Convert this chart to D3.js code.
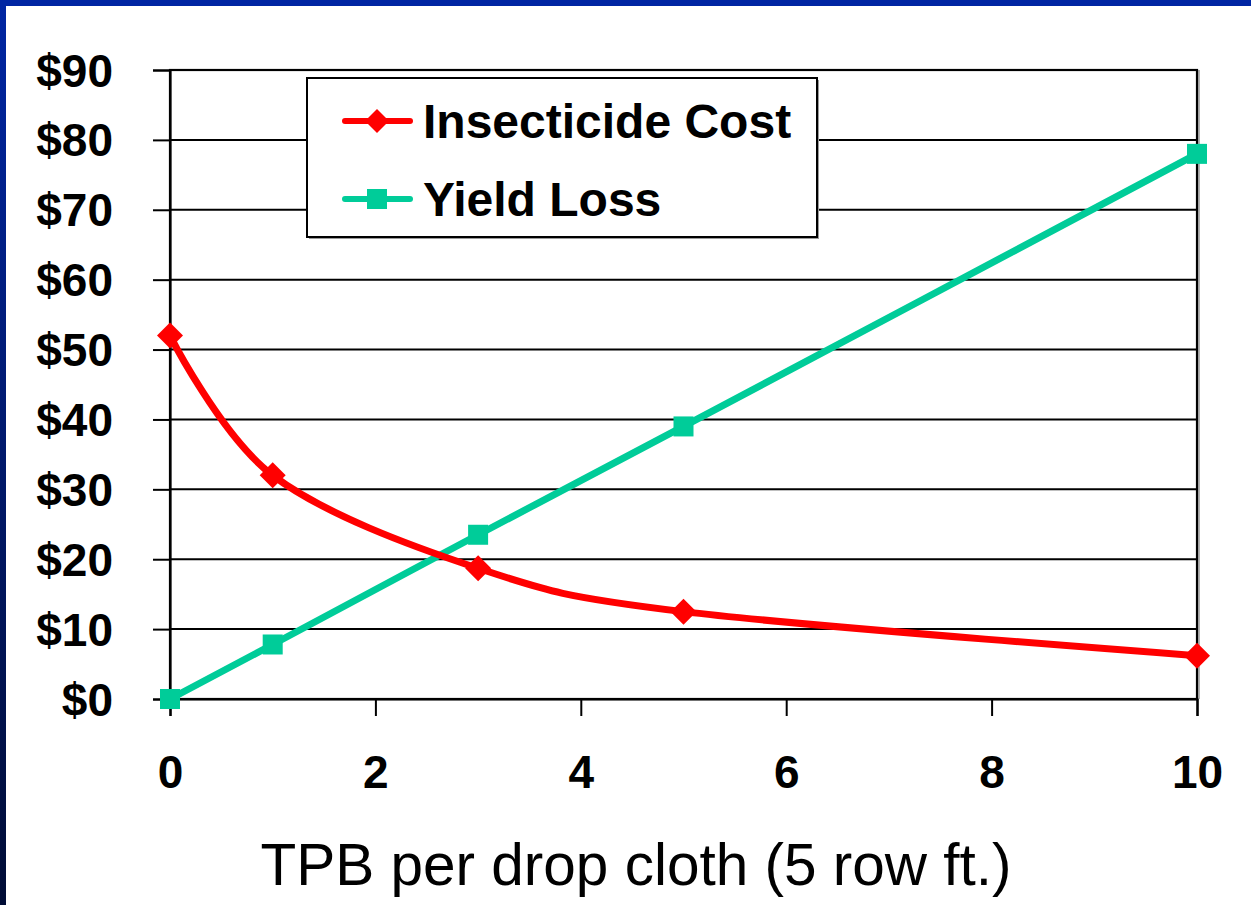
<!DOCTYPE html>
<html>
<head>
<meta charset="utf-8">
<script src="https://cdn.jsdelivr.net/npm/d3@7"></script>
<style>
  html, body { margin: 0; padding: 0; background: #ffffff; }
  svg { display: block; }
</style>
</head>
<body>
<svg id="chart" width="1251" height="905"></svg>
<script>
// TPB density (per drop cloth) at which each economic value was estimated
const tpbCounts = [0, 1, 3, 5, 10];
// Dollar values per series
const insecticideCost = [52, 32, 18.7, 12.5, 6.2];
const yieldLoss = [0, 7.8, 23.5, 39, 78];
const seriesNames = ["Insecticide Cost", "Yield Loss"];
const yTicks = [0, 10, 20, 30, 40, 50, 60, 70, 80, 90];
const xTicks = [0, 2, 4, 6, 8, 10];
const xTitle = "TPB per drop cloth (5 row ft.)";

const W = 1251, H = 905;
const plot = { left: 170, right: 1197, top: 70, bottom: 699 };
const colors = { cost: "#ff0000", loss: "#00cc99" };

const svg = d3.select("#chart");

// slide frame: blue bar across the top, darkening bar down the left
const defs = svg.append("defs");
const grad = defs.append("linearGradient")
  .attr("id", "sideFade").attr("x1", 0).attr("y1", 0).attr("x2", 0).attr("y2", 1);
grad.append("stop").attr("offset", "0%").attr("stop-color", "#0026a3");
grad.append("stop").attr("offset", "100%").attr("stop-color", "#000c35");

svg.append("rect").attr("x", 0).attr("y", 0).attr("width", W).attr("height", H).attr("fill", "#ffffff");
svg.append("rect").attr("x", 0).attr("y", 0).attr("width", 6).attr("height", H).attr("fill", "url(#sideFade)");
svg.append("rect").attr("x", 0).attr("y", 0).attr("width", W).attr("height", 6).attr("fill", "#0026a3");

const x = d3.scaleLinear().domain([0, 10]).range([plot.left, plot.right]);
const y = d3.scaleLinear().domain([0, 90]).range([plot.bottom, plot.top]);

// horizontal gridlines
svg.append("g")
  .selectAll("line")
  .data(yTicks)
  .join("line")
  .attr("x1", plot.left).attr("x2", plot.right)
  .attr("y1", d => y(d)).attr("y2", d => y(d))
  .attr("stroke", "#000").attr("stroke-width", 2);

// plot frame with a faint grey edge on the right
svg.append("line")
  .attr("x1", plot.right + 2).attr("x2", plot.right + 2)
  .attr("y1", plot.top).attr("y2", plot.bottom)
  .attr("stroke", "#9a9a9a").attr("stroke-width", 1.5);
svg.append("rect")
  .attr("x", plot.left).attr("y", plot.top)
  .attr("width", plot.right - plot.left).attr("height", plot.bottom - plot.top)
  .attr("fill", "none").attr("stroke", "#000").attr("stroke-width", 2.2);

// y axis
const yAxis = d3.axisLeft(y)
  .tickValues(yTicks)
  .tickSize(17)
  .tickPadding(40)
  .tickFormat(d => "$" + d);
const gy = svg.append("g").attr("transform", `translate(${plot.left},0)`).call(yAxis);
gy.select(".domain").attr("stroke", "#000").attr("stroke-width", 2.2);
gy.selectAll(".tick line").attr("stroke", "#000").attr("stroke-width", 2);
gy.selectAll(".tick text")
  .attr("font-family", "'Liberation Sans', Arial, sans-serif")
  .attr("font-weight", "bold")
  .attr("font-size", 46)
  .attr("fill", "#000")
  .attr("dy", "0.35em");

// x axis
const xAxis = d3.axisBottom(x)
  .tickValues(xTicks)
  .tickSize(17)
  .tickPadding(39)
  .tickFormat(d3.format("d"));
const gx = svg.append("g").attr("transform", `translate(0,${plot.bottom})`).call(xAxis);
gx.select(".domain").attr("stroke", "#000").attr("stroke-width", 2.2);
gx.selectAll(".tick line").attr("stroke", "#000").attr("stroke-width", 2);
gx.selectAll(".tick text")
  .attr("font-family", "'Liberation Sans', Arial, sans-serif")
  .attr("font-weight", "bold")
  .attr("font-size", 46)
  .attr("fill", "#000")
  .attr("dy", "0.71em");

// x axis title
svg.append("text")
  .attr("x", 636).attr("y", 885)
  .attr("text-anchor", "middle")
  .attr("font-family", "'Liberation Sans', Arial, sans-serif")
  .attr("font-size", 58.5)
  .attr("fill", "#000")
  .text(xTitle);

// smoothed series lines (uniform Catmull-Rom spline through the points)
const line = d3.line()
  .x(d => x(d[0]))
  .y(d => y(d[1]))
  .curve(d3.curveCatmullRom.alpha(0));

const costPts = tpbCounts.map((t, i) => [t, insecticideCost[i]]);
const lossPts = tpbCounts.map((t, i) => [t, yieldLoss[i]]);

svg.append("path").datum(lossPts)
  .attr("d", line).attr("fill", "none")
  .attr("stroke", colors.loss).attr("stroke-width", 7)
  .attr("stroke-linejoin", "round").attr("stroke-linecap", "round");

svg.append("path").datum(costPts)
  .attr("d", line).attr("fill", "none")
  .attr("stroke", colors.cost).attr("stroke-width", 7)
  .attr("stroke-linejoin", "round").attr("stroke-linecap", "round");

// markers
function diamondPath(r) {
  return `M0,${-r}L${r},0L0,${r}L${-r},0Z`;
}
svg.append("g").selectAll("rect")
  .data(lossPts)
  .join("rect")
  .attr("x", d => x(d[0]) - 10).attr("y", d => y(d[1]) - 10)
  .attr("width", 20).attr("height", 20)
  .attr("fill", colors.loss);

svg.append("g").selectAll("path")
  .data(costPts)
  .join("path")
  .attr("transform", d => `translate(${x(d[0])},${y(d[1])})`)
  .attr("d", diamondPath(13))
  .attr("fill", colors.cost);

// legend
const legend = svg.append("g");
legend.append("rect")
  .attr("x", 309).attr("y", 80).attr("width", 510).attr("height", 159)
  .attr("fill", "#9a9a9a");
legend.append("rect")
  .attr("x", 307).attr("y", 78).attr("width", 510).attr("height", 159)
  .attr("fill", "#fff").attr("stroke", "#000").attr("stroke-width", 2);

const legendRows = [
  { name: seriesNames[0], color: colors.cost, cy: 121, marker: "diamond" },
  { name: seriesNames[1], color: colors.loss, cy: 199, marker: "square" }
];
legendRows.forEach(r => {
  legend.append("line")
    .attr("x1", 345).attr("x2", 410)
    .attr("y1", r.cy).attr("y2", r.cy)
    .attr("stroke", r.color).attr("stroke-width", 6)
    .attr("stroke-linecap", "round");
  if (r.marker === "diamond") {
    legend.append("path")
      .attr("transform", `translate(377,${r.cy})`)
      .attr("d", diamondPath(12))
      .attr("fill", r.color);
  } else {
    legend.append("rect")
      .attr("x", 367).attr("y", r.cy - 10).attr("width", 20).attr("height", 20)
      .attr("fill", r.color);
  }
  legend.append("text")
    .attr("x", 423).attr("y", r.cy + 17)
    .attr("font-family", "'Liberation Sans', Arial, sans-serif")
    .attr("font-weight", "bold")
    .attr("font-size", 48)
    .attr("fill", "#000")
    .text(r.name);
});
</script>
</body>
</html>
